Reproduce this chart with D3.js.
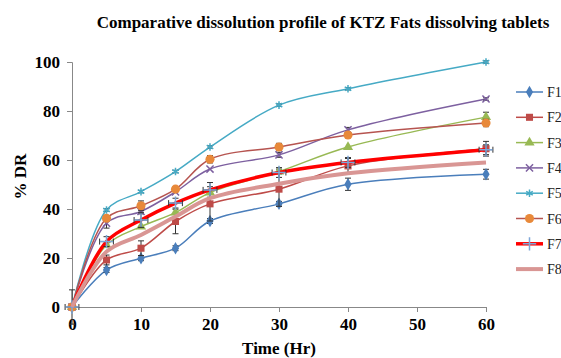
<!DOCTYPE html>
<html lang="en">
<head>
<meta charset="UTF-8">
<title>Comparative dissolution profile</title>
<script src="https://d3js.org/d3.v7.min.js"></script>
<style>
  body { margin: 0; background: #fff; }
  svg text { font-family: "Times New Roman", "Liberation Serif", serif; }
</style>
</head>
<body>
<div id="chart"></div>
<script>
// data
const times = [0, 5, 10, 15, 20, 30, 40, 60];
const seriesNames = ["F1", "F2", "F3", "F4", "F5", "F6", "F7", "F8"];
const f1 = [0, 15.1, 19.9, 24.0, 35.1, 42.1, 50.1, 54.2];
const f2 = [0, 19.2, 24.0, 34.9, 42.1, 48.1, 57.6, 64.6];
const f3 = [0, 25.3, 32.8, 38.5, 46.7, 55.3, 65.3, 77.5];
const f4 = [0, 34.2, 39.0, 47.0, 56.3, 62.1, 72.3, 84.9];
const f5 = [0, 39.6, 47.1, 55.3, 65.3, 82.4, 89.1, 100.0];
const f6 = [0, 36.2, 41.3, 48.1, 60.3, 65.3, 70.2, 75.1];
const f7 = [0, 26.7, 35.5, 42.4, 47.8, 54.9, 59.0, 64.2];
const f8 = [0, 22.6, 29.4, 36.9, 44.4, 50.3, 54.6, 59.0];
// +/- errors (y), and x errors for F7
const errF1 = [0, 1, 1, 1, 1, 1, 2.5, 2];
const errF2 = [7, 2, 3, 5, 7, 7, 3, 3];
const errF3 = [0, 0, 0, 0, 0, 1, 0, 2];
const errF4 = [0, 2, 1, 0, 0, 1, 1, 0.5];
const errF5 = [0, 0.5, 0.5, 0.5, 0.5, 0.5, 0.5, 0.5];
const errF6 = [0, 1, 2, 1, 1.5, 1.5, 1, 1.5];
const errF7 = [0, 2, 3, 2, 3, 2, 2, 2];
const errF8 = [0, 0, 0, 0, 0, 0, 0, 0];
const xErrF7 = [1, 1, 1, 1, 1, 1, 1, 1];
const xTicks = [0, 10, 20, 30, 40, 50, 60];
const yTicks = [0, 20, 40, 60, 80, 100];

const values = [f1, f2, f3, f4, f5, f6, f7, f8];
const errs = [errF1, errF2, errF3, errF4, errF5, errF6, errF7, errF8];

const styles = [
  { line: "#4A7EBB", width: 1.5, fill: "#4A7EBB", sym: d3.symbolDiamond, size: 45, stroke: false },
  { line: "#BE4B48", width: 1.5, fill: "#BE4B48", sym: d3.symbolSquare, size: 50, stroke: false },
  { line: "#98B954", width: 1.5, fill: "#98B954", sym: d3.symbolTriangle, size: 45, stroke: false },
  { line: "#7D60A0", width: 1.5, fill: "#7D60A0", sym: d3.symbolX, size: 35, stroke: true },
  { line: "#46AAC5", width: 1.5, fill: "#46AAC5", sym: d3.symbolAsterisk, size: 40, stroke: true },
  { line: "#B65450", width: 1.5, fill: "#E8893A", sym: d3.symbolCircle, size: 65, stroke: false },
  { line: "#FF0000", width: 3.5, fill: "#7EA6D8", sym: d3.symbolPlus, size: 60, stroke: true },
  { line: "#D99694", width: 4, fill: null, sym: null, size: 0, stroke: false }
];

const W = 561, H = 358;
const margin = { top: 62, right: 75, bottom: 51, left: 72 };
const width = W - margin.left - margin.right;
const height = H - margin.top - margin.bottom;

const svg = d3.select("#chart").append("svg")
  .attr("width", W).attr("height", H);

svg.append("text")
  .attr("x", 323).attr("y", 28)
  .attr("text-anchor", "middle")
  .attr("font-size", 17).attr("font-weight", "bold")
  .text("Comparative  dissolution profile of KTZ Fats dissolving tablets");

const g = svg.append("g").attr("transform", `translate(${margin.left},${margin.top})`);

const x = d3.scaleLinear().domain([0, 60]).range([0, width]);
const y = d3.scaleLinear().domain([0, 100]).range([height, 0]);

const xAxis = g.append("g")
  .attr("transform", `translate(0,${height})`)
  .call(d3.axisBottom(x).tickValues(xTicks).tickSize(5).tickPadding(6));
const yAxis = g.append("g")
  .call(d3.axisLeft(y).tickValues(yTicks).tickSize(5).tickPadding(7));

[xAxis, yAxis].forEach(a => {
  a.select(".domain").attr("stroke", "#888");
  a.selectAll(".tick line").attr("stroke", "#888");
  a.selectAll(".tick text")
    .attr("font-family", '"Times New Roman", "Liberation Serif", serif')
    .attr("font-size", 17).attr("font-weight", "bold").attr("fill", "#000");
});

svg.append("text")
  .attr("transform", `translate(26,${margin.top + height / 2 - 8}) rotate(-90)`)
  .attr("text-anchor", "middle")
  .attr("font-size", 17).attr("font-weight", "bold")
  .text("% DR");

svg.append("text")
  .attr("x", margin.left + width / 2).attr("y", 354)
  .attr("text-anchor", "middle")
  .attr("font-size", 17).attr("font-weight", "bold")
  .text("Time (Hr)");

const line = d3.line()
  .x(d => x(d.t))
  .y(d => y(d.v))
  .curve(d3.curveCatmullRom.alpha(0.5));

values.forEach((vals, i) => {
  const st = styles[i];
  const pts = times.map((t, j) => ({ t: t, v: vals[j], e: errs[i][j], xe: i === 6 ? xErrF7[j] : 0 }));
  const sg = g.append("g");

  sg.append("path")
    .datum(pts)
    .attr("fill", "none")
    .attr("stroke", st.line)
    .attr("stroke-width", st.width)
    .attr("d", line);

  // error bars
  const eb = sg.selectAll(".eb").data(pts.filter(d => d.e > 0)).join("g").attr("class", "eb");
  eb.append("line")
    .attr("x1", d => x(d.t)).attr("x2", d => x(d.t))
    .attr("y1", d => y(d.v - d.e)).attr("y2", d => y(d.v + d.e));
  eb.append("line")
    .attr("x1", d => x(d.t) - 3).attr("x2", d => x(d.t) + 3)
    .attr("y1", d => y(d.v + d.e)).attr("y2", d => y(d.v + d.e));
  eb.append("line")
    .attr("x1", d => x(d.t) - 3).attr("x2", d => x(d.t) + 3)
    .attr("y1", d => y(d.v - d.e)).attr("y2", d => y(d.v - d.e));
  eb.selectAll("line").attr("stroke", "#333").attr("stroke-width", 1);

  const xb = sg.selectAll(".xb").data(pts.filter(d => d.xe > 0)).join("g").attr("class", "xb");
  xb.append("line")
    .attr("x1", d => x(d.t - d.xe)).attr("x2", d => x(d.t + d.xe))
    .attr("y1", d => y(d.v)).attr("y2", d => y(d.v));
  xb.append("line")
    .attr("x1", d => x(d.t - d.xe)).attr("x2", d => x(d.t - d.xe))
    .attr("y1", d => y(d.v) - 3).attr("y2", d => y(d.v) + 3);
  xb.append("line")
    .attr("x1", d => x(d.t + d.xe)).attr("x2", d => x(d.t + d.xe))
    .attr("y1", d => y(d.v) - 3).attr("y2", d => y(d.v) + 3);
  xb.selectAll("line").attr("stroke", "#333").attr("stroke-width", 1);

  if (st.sym) {
    sg.selectAll(".mk").data(pts).join("path")
      .attr("class", "mk")
      .attr("transform", d => `translate(${x(d.t)},${y(d.v)})`)
      .attr("d", d3.symbol().type(st.sym).size(st.size))
      .attr("fill", st.stroke ? "none" : st.fill)
      .attr("stroke", st.stroke ? st.fill : "none")
      .attr("stroke-width", st.stroke ? 1.5 : 0);
  }
});

// legend
const lg = svg.append("g").attr("transform", "translate(516,92)");
seriesNames.forEach((name, i) => {
  const st = styles[i];
  const row = lg.append("g").attr("transform", `translate(0,${i * 25.3})`);
  row.append("line")
    .attr("x1", 0).attr("x2", 27).attr("y1", 0).attr("y2", 0)
    .attr("stroke", st.line).attr("stroke-width", st.width);
  if (st.sym) {
    row.append("path")
      .attr("transform", "translate(13.5,0)")
      .attr("d", d3.symbol().type(st.sym).size(st.size))
      .attr("fill", st.stroke ? "none" : st.fill)
      .attr("stroke", st.stroke ? st.fill : "none")
      .attr("stroke-width", st.stroke ? 1.5 : 0);
  }
  row.append("text")
    .attr("x", 31).attr("y", 5)
    .attr("font-family", '"Liberation Sans", Arial, sans-serif')
    .attr("font-size", 14)
    .attr("fill", "#222")
    .text(name);
});
</script>
</body>
</html>
